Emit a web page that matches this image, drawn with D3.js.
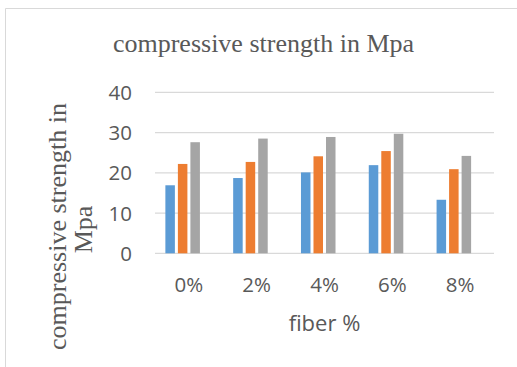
<!DOCTYPE html>
<html><head><meta charset="utf-8">
<script src="https://cdn.jsdelivr.net/npm/d3@7"></script>
<style>body{margin:0;background:#fff;}svg{display:block;}</style>
</head><body>
<svg id="c" width="517" height="367"></svg>
<script>
const categories = ["0%", "2%", "4%", "6%", "8%"];
const seriesNames = ["Series1", "Series2", "Series3"];
const series1 = [16.9, 18.7, 20.1, 21.9, 13.3];
const series2 = [22.2, 22.7, 24.1, 25.4, 20.9];
const series3 = [27.6, 28.5, 28.9, 29.7, 24.2];
const yTicks = [0, 10, 20, 30, 40];
const colors = ["#5B9BD5", "#ED7D31", "#A5A5A5"];

const seriesValues = [series1, series2, series3];
const svg = d3.select("#c");
const L = 155, R = 494, T = 92.3, B = 253.3;

// chart border
svg.append("path").attr("d", "M5.5,367 V8.5 H517").attr("fill", "none").attr("stroke", "#d9d9d9").attr("stroke-width", 1);

const y = d3.scaleLinear().domain([0, 40]).range([B, T]);
const x0 = d3.scaleBand().domain(categories).range([L, R]).paddingInner(0.306).paddingOuter(0.153);
const x1 = d3.scaleBand().domain([...seriesNames, "blank"]).range([0, x0.bandwidth()]).paddingInner(0.24);

// gridlines
svg.append("g").selectAll("line").data(yTicks).join("line")
  .attr("x1", L).attr("x2", R).attr("y1", d => y(d)).attr("y2", d => y(d))
  .attr("stroke", "#d9d9d9").attr("stroke-width", 1.3);

// bars
const g = svg.append("g");
categories.forEach((c, i) => {
  seriesNames.forEach((s, j) => {
    g.append("rect")
      .attr("x", x0(c) + x1(s))
      .attr("y", y(seriesValues[j][i]))
      .attr("width", x1.bandwidth())
      .attr("height", y(0) - y(seriesValues[j][i]))
      .attr("fill", colors[j]);
  });
});

// y axis labels
const yAxis = d3.axisLeft(y).tickValues(yTicks).tickSize(0).tickPadding(0).tickFormat(d3.format("d"));
const ya = svg.append("g").attr("transform", `translate(132,0)`).call(yAxis);
ya.select(".domain").remove();
ya.selectAll("text").attr("font-family", "Open Sans").attr("font-size", 20.5).attr("fill", "#595959").attr("dy", "0.35em");

// x axis labels
const xAxis = d3.axisBottom(x0).tickSize(0).tickPadding(0);
const xa = svg.append("g").call(xAxis);
xa.select(".domain").remove();
xa.selectAll("text").attr("y", 292).attr("dy", 0).attr("font-family", "Open Sans").attr("font-size", 20.5).attr("fill", "#595959");

// titles
svg.append("text").attr("x", 263.5).attr("y", 52).attr("text-anchor", "middle")
  .attr("font-family", "Liberation Serif").attr("font-size", 26).attr("fill", "#595959")
  .text("compressive strength in Mpa");

svg.append("text").attr("x", 324.5).attr("y", 331).attr("text-anchor", "middle")
  .attr("font-family", "Open Sans").attr("font-size", 22).attr("fill", "#595959")
  .text("fiber %");

const yt = svg.append("text").attr("transform", "translate(66,226.5) rotate(-90)").attr("text-anchor", "middle")
  .attr("font-family", "Liberation Serif").attr("font-size", 26).attr("fill", "#595959");
yt.append("tspan").attr("x", 0).attr("y", 0).text("compressive strength in");
yt.append("tspan").attr("x", -3).attr("y", 26).text("Mpa");
</script>
</body></html>
